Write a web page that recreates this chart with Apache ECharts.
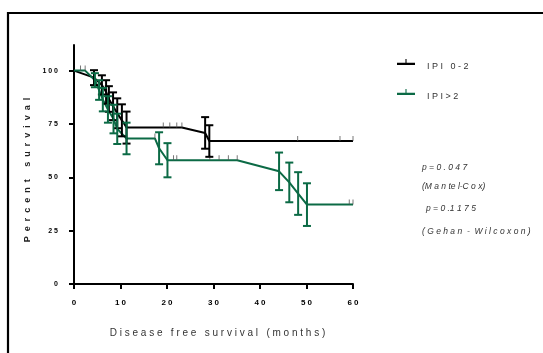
<!DOCTYPE html>
<html><head><meta charset="utf-8">
<script src="https://cdn.jsdelivr.net/npm/echarts@6/dist/echarts.min.js"></script>
<style>html,body{margin:0;padding:0;background:#fff}#c{width:543px;height:353px}</style>
</head><body><div id="c"></div>
<script>
// ---- data ----
const xTicks = [0, 10, 20, 30, 40, 50, 60];
const yTicks = [0, 25, 50, 75, 100];
const seriesNames = ['IPI 0-2', 'IPI>2'];
// [time, survival %, error half-width]
const blackStart = [0, 100];
const blackEvents = [[4.3,96.7,3.5],[6.0,93.3,4.5],[6.9,90.0,5.5],[7.5,86.7,6],[8.4,83.3,6.5],[9.3,80.0,7],[10.3,76.7,7.5],[11.3,73.3,7.5],[28.2,70.8,7.4],[29.1,67.0,7.4]];
const blackCensored = [[19.2,73.3],[20.6,73.3],[22.1,73.3],[23.2,73.3],[48.1,67.0],[57.2,67.0],[60,67.0]];
const greenStart = [0, 100];
const greenEvents = [[4.5,95.5,3.3],[5.4,90.9,4.6],[6.2,86.4,5.5],[7.3,81.8,6.2],[8.5,77.3,6.7],[9.3,72.7,7.1],[11.3,68.2,7.4],[18.3,63.6,7.5],[20.1,58.0,8],[44.1,52.8,8.8],[46.3,47.6,9.3],[48.2,42.4,10],[50.1,37.2,10]];
const greenCensored = [[1.4,100],[2.4,100],[17.4,68.2],[21.4,58.0],[22.1,58.0],[29.2,58.0],[31.2,58.0],[33.2,58.0],[35.1,58.0],[59.2,37.2],[60,37.2]];
const annotations = ['p = 0 . 0 4 7', '(M a n te l-C o x)', 'p = 0 .1 1 7 5', '( G e h a n  -  W i l c o x o n )'];
const xTitle = 'Disease free survival (months)';
const yTitle = 'Percent survival';

// ---- helpers ----
const BLACK = '#000000', GREEN = '#0b6a45';
const FONT = 'Liberation Sans, Arial, sans-serif';
const sp = (s, g) => s.split('').join(g || ' ');
function curve(start, ev, cen){
  return [start].concat(ev.map(e => [e[0], e[1]]), cen).sort((a,b) => a[0]-b[0]);
}
function errSeries(name, ev, color){
  return {
    type: 'custom', name: name, data: ev, z: 4, silent: true,
    renderItem: function(params, api){
      const t = api.value(0), p = api.value(1), e = api.value(2);
      const top = api.coord([t, p + e]), bot = api.coord([t, p - e]);
      const w = 4;
      const st = {stroke: color, lineWidth: 2};
      return {type: 'group', children: [
        {type: 'line', shape: {x1: top[0], y1: top[1], x2: bot[0], y2: bot[1]}, style: st},
        {type: 'line', shape: {x1: top[0]-w, y1: top[1], x2: top[0]+w, y2: top[1]}, style: st},
        {type: 'line', shape: {x1: bot[0]-w, y1: bot[1], x2: bot[0]+w, y2: bot[1]}, style: st}
      ]};
    }
  };
}
function censorSeries(name, cen){
  return {type: 'scatter', name: name, data: cen, symbol: 'rect', symbolSize: [1, 5],
    symbolOffset: [0, -2.5], itemStyle: {color: '#555'}, z: 3, silent: true};
}
function lineSeries(name, data, color){
  return {type: 'line', name: name, data: data, showSymbol: false, symbol: 'none',
    lineStyle: {color: color, width: 2}, itemStyle: {color: color}, z: 2, silent: true};
}

const chart = echarts.init(document.getElementById('c'), null, {renderer: 'canvas'});
const annY = [168, 187, 209, 232];
const annX = [422, 422, 426, 422];
chart.setOption({
  animation: false,
  backgroundColor: '#fff',
  grid: {left: 74, right: 190, top: 45, bottom: 69},
  legend: {
    orient: 'vertical', left: 397, top: 53, padding: 0, itemWidth: 18, itemHeight: 6, itemGap: 12,
    data: seriesNames.map(n => ({name: n, icon: 'path://M0,4 L20,4 L20,6.5 L0,6.5 Z M9.4,0 L10.6,0 L10.6,4 L9.4,4 Z'})),
    formatter: n => '{t|' + sp(n) + '}',
    textStyle: {fontSize: 9, color: '#333', fontFamily: FONT,
      rich: {t: {fontSize: 9, lineHeight: 10, color: '#333', fontFamily: FONT, padding: [9, 0, 0, 7]}}}
  },
  xAxis: {
    type: 'value', min: 0, max: 60, interval: 10,
    axisLine: {onZero: false, lineStyle: {color: '#000', width: 2}},
    axisTick: {show: true, length: 5, lineStyle: {color: '#000', width: 2}},
    axisLabel: {fontSize: 8, fontWeight: 'bold', color: '#000', margin: 15, fontFamily: FONT,
      customValues: xTicks, formatter: v => sp(String(v))},
    splitLine: {show: false},
    name: sp(xTitle), nameLocation: 'middle', nameGap: 44,
    nameTextStyle: {fontSize: 10, color: '#333', fontFamily: FONT, padding: [0, 0, 0, 8]}
  },
  yAxis: {
    type: 'value', min: 0, max: 112,
    axisLine: {show: true, onZero: false, lineStyle: {color: '#000', width: 2}},
    axisTick: {show: true, length: 5, customValues: yTicks, lineStyle: {color: '#000', width: 2}},
    axisLabel: {fontSize: 7, fontWeight: 'bold', color: '#000', margin: 16, fontFamily: FONT,
      customValues: yTicks, formatter: v => sp(String(v))},
    splitLine: {show: false},
    name: sp(yTitle, '  '), nameLocation: 'middle', nameGap: 37, nameRotate: 90,
    nameTextStyle: {fontSize: 9, fontWeight: 'bold', color: '#222', fontFamily: FONT, padding: [0, 11, 0, 0]}
  },
  graphic: [
    {type: 'polyline', shape: {points: [[8, 353], [8, 13], [543, 13]]},
     style: {stroke: '#000', lineWidth: 2.2, fill: null}, silent: true}
  ].concat(annotations.map((a, i) => ({
    type: 'text', x: annX[i], y: annY[i], silent: true,
    style: {text: a, fontSize: 8.5, fontStyle: 'italic', fill: '#333', fontFamily: FONT,
      verticalAlign: 'middle', align: 'left'}
  }))),
  series: [
    lineSeries(seriesNames[0], curve(blackStart, blackEvents, blackCensored), BLACK),
    lineSeries(seriesNames[1], curve(greenStart, greenEvents, greenCensored), GREEN),
    errSeries('errB', blackEvents, BLACK),
    errSeries('errG', greenEvents, GREEN),
    censorSeries('cenB', blackCensored),
    censorSeries('cenG', greenCensored)
  ]
});
</script></body></html>
